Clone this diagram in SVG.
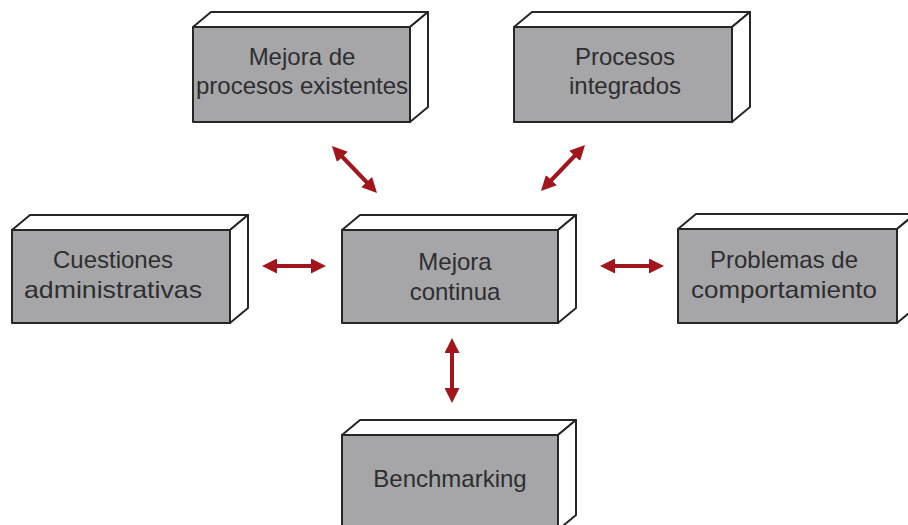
<svg xmlns="http://www.w3.org/2000/svg" width="908" height="525" viewBox="0 0 908 525">
  <defs>
    <style>
      .front { fill: #a6a6a8; stroke: #262626; stroke-width: 2; stroke-linejoin: round; }
      .face { fill: #ffffff; stroke: #262626; stroke-width: 2; stroke-linejoin: round; }
      .label { font-family: "Liberation Sans", Arial, sans-serif; font-size: 24px; fill: #2e2e30; text-anchor: middle; }
      .link { stroke: #a3151c; stroke-width: 4; fill: none; marker-start: url(#head); marker-end: url(#head); }
    </style>
    <marker id="head" viewBox="0 0 15 15" markerWidth="15" markerHeight="15" markerUnits="userSpaceOnUse" refX="6" refY="7.5" orient="auto-start-reverse">
      <path d="M0,0 L15,7.5 L0,15 Z" fill="#a3151c"/>
    </marker>
  </defs>

  <rect width="908" height="525" fill="#ffffff"/>

  <!-- Mejora de procesos existentes -->
  <g id="node-mejora-procesos">
    <polygon class="face" points="193,27 211,12 428,12 410,27"/>
    <polygon class="face" points="410,27 428,12 428,107 410,122"/>
    <rect class="front" x="193" y="27" width="217" height="95"/>
    <text class="label" x="302" y="65">Mejora de</text>
    <text class="label" x="302" y="94">procesos existentes</text>
  </g>

  <!-- Procesos integrados -->
  <g id="node-procesos-integrados">
    <polygon class="face" points="514,27 532,12 750,12 732,27"/>
    <polygon class="face" points="732,27 750,12 750,107 732,122"/>
    <rect class="front" x="514" y="27" width="218" height="95"/>
    <text class="label" x="625" y="65">Procesos</text>
    <text class="label" x="625" y="94">integrados</text>
  </g>

  <!-- Cuestiones administrativas -->
  <g id="node-cuestiones">
    <polygon class="face" points="12,230 30,215 248,215 230,230"/>
    <polygon class="face" points="230,230 248,215 248,308 230,323"/>
    <rect class="front" x="12" y="230" width="218" height="93"/>
    <text class="label" x="113" y="268">Cuestiones</text>
    <text class="label" x="113" y="298" textLength="178" lengthAdjust="spacingAndGlyphs">administrativas</text>
  </g>

  <!-- Mejora continua -->
  <g id="node-mejora-continua">
    <polygon class="face" points="342,230 360,215 576,215 558,230"/>
    <polygon class="face" points="558,230 576,215 576,308 558,323"/>
    <rect class="front" x="342" y="230" width="216" height="93"/>
    <text class="label" x="455" y="270">Mejora</text>
    <text class="label" x="455" y="300">continua</text>
  </g>

  <!-- Problemas de comportamiento -->
  <g id="node-problemas">
    <polygon class="face" points="678,229 696,214 915,214 897,229"/>
    <polygon class="face" points="897,229 915,214 915,308 897,323"/>
    <rect class="front" x="678" y="229" width="219" height="94"/>
    <text class="label" x="784" y="268">Problemas de</text>
    <text class="label" x="784" y="298" textLength="186" lengthAdjust="spacingAndGlyphs">comportamiento</text>
  </g>

  <!-- Benchmarking -->
  <g id="node-benchmarking">
    <polygon class="face" points="342,435 360,420 576,420 558,435"/>
    <polygon class="face" points="558,435 576,420 576,515 558,530"/>
    <rect class="front" x="342" y="435" width="216" height="95"/>
    <text class="label" x="450" y="487">Benchmarking</text>
  </g>

  <!-- Two-headed links around the central node -->
  <g id="connectors">
    <line class="link" x1="338.2" y1="152.5" x2="370.8" y2="186.5"/>
    <line class="link" x1="578.8" y1="151.5" x2="547.2" y2="184.5"/>
    <line class="link" x1="271" y1="266" x2="317" y2="266"/>
    <line class="link" x1="609" y1="266" x2="655" y2="266"/>
    <line class="link" x1="452" y1="347" x2="452" y2="394"/>
  </g>
</svg>
